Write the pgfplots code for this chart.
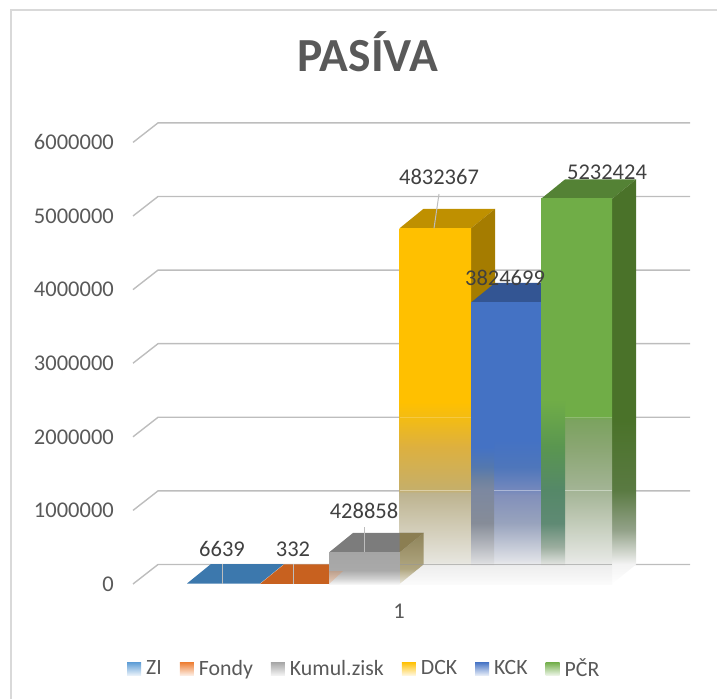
\documentclass[border=0pt]{standalone}
\usepackage{fontspec}
\setmainfont{Carlito}
\usepackage{pgfplots}
\pgfplotsset{compat=1.18}
\definecolor{txt}{HTML}{595959}
\definecolor{lab}{HTML}{404040}
\definecolor{gridc}{HTML}{BDBDBD}
\definecolor{framec}{HTML}{D9D9D9}
\definecolor{cZI}{HTML}{5B9BD5}
\definecolor{cFo}{HTML}{ED7D31}
\definecolor{cKu}{HTML}{A5A5A5}
\definecolor{cDC}{HTML}{FFC000}
\definecolor{cKC}{HTML}{4472C4}
\definecolor{cPC}{HTML}{70AD47}
\definecolor{pale}{HTML}{FBFBFB}
\definecolor{flo}{HTML}{EEEEEE}
\definecolor{y1}{HTML}{F3BC14}\definecolor{y2}{HTML}{DDB03F}\definecolor{y3}{HTML}{C5AF6A}\definecolor{y4}{HTML}{BDB38F}\definecolor{y5}{HTML}{E6E5DE}
\definecolor{b1}{HTML}{5478AE}\definecolor{b2}{HTML}{6E82A0}\definecolor{b3}{HTML}{7C88A0}\definecolor{b4}{HTML}{868C98}\definecolor{b5}{HTML}{B8BBC1}\definecolor{b6}{HTML}{DADBDE}
\definecolor{br1}{HTML}{4E76BB}\definecolor{br2}{HTML}{7488BC}\definecolor{br3}{HTML}{8290BA}\definecolor{br4}{HTML}{98A3BD}\definecolor{br5}{HTML}{DEE0E6}
\definecolor{g1}{HTML}{5A9650}\definecolor{g2}{HTML}{558868}\definecolor{g3}{HTML}{5F8A74}\definecolor{g4}{HTML}{9CAE9F}\definecolor{g5}{HTML}{DDE0DC}
\definecolor{gr1}{HTML}{7BA35F}\definecolor{gr2}{HTML}{8AA672}\definecolor{gr3}{HTML}{A3B495}\definecolor{gr4}{HTML}{B9C4AE}\definecolor{gr5}{HTML}{E5E7E3}
\definecolor{gs0}{HTML}{4A7229}\definecolor{gs1}{HTML}{5A7A42}\definecolor{gs2}{HTML}{93A289}\definecolor{gs3}{HTML}{D8DCD5}\definecolor{gs4}{HTML}{F3F3F3}
\definecolor{k1}{HTML}{A9A9A9}\definecolor{k2}{HTML}{D0D0D0}\definecolor{k3}{HTML}{F5F5F5}
\definecolor{ks0}{HTML}{8F845A}\definecolor{ks1}{HTML}{B0A680}\definecolor{ks2}{HTML}{ECE9DF}
\pgfdeclareverticalshading{fY}{100bp}{color(0bp)=(pale);color(25bp)=(pale);color(27.53bp)=(flo);color(28.1bp)=(y5);color(37.8bp)=(y4);color(38.2bp)=(y3);color(44.26bp)=(y2);color(48.34bp)=(y1);color(50.6bp)=(cDC);color(100bp)=(cDC)}
\pgfdeclareverticalshading{fBL}{100bp}{color(0bp)=(pale);color(25bp)=(pale);color(28.2bp)=(flo);color(28.9bp)=(b6);color(31.58bp)=(b5);color(35.84bp)=(b4);color(41.7bp)=(b3);color(43.47bp)=(b2);color(45.78bp)=(b1);color(49.33bp)=(cKC);color(100bp)=(cKC)}
\pgfdeclareverticalshading{fBR}{100bp}{color(0bp)=(pale);color(25bp)=(pale);color(28.2bp)=(flo);color(29.26bp)=(br5);color(35.84bp)=(br4);color(40.8bp)=(br3);color(41.7bp)=(br2);color(45.78bp)=(br1);color(50.58bp)=(cKC);color(100bp)=(cKC)}
\pgfdeclareverticalshading{fGL}{100bp}{color(0bp)=(pale);color(25bp)=(pale);color(27.34bp)=(flo);color(27.7bp)=(g5);color(29.8bp)=(g4);color(32.9bp)=(g3);color(37.2bp)=(g2);color(42.8bp)=(g1);color(48.9bp)=(cPC);color(100bp)=(cPC)}
\pgfdeclareverticalshading{fGR}{100bp}{color(0bp)=(pale);color(25bp)=(pale);color(27.34bp)=(flo);color(28.1bp)=(gr5);color(34.2bp)=(gr4);color(37.2bp)=(gr3);color(42.8bp)=(gr2);color(46.4bp)=(gr1);color(46.8bp)=(cPC);color(100bp)=(cPC)}
\pgfdeclareverticalshading{fGS}{100bp}{color(0bp)=(white);color(25bp)=(white);color(27.47bp)=(gs4);color(28.6bp)=(gs3);color(31.67bp)=(gs2);color(36.6bp)=(gs1);color(45.27bp)=(gs0);color(100bp)=(gs0)}
\pgfdeclareverticalshading{fK}{100bp}{color(0bp)=(k3);color(25bp)=(k3);color(34bp)=(k2);color(47bp)=(k1);color(75bp)=(cKu);color(100bp)=(cKu)}
\pgfdeclareverticalshading{fKS}{100bp}{color(0bp)=(ks2);color(25bp)=(ks2);color(40bp)=(ks1);color(75bp)=(ks0);color(100bp)=(ks0)}
\newcommand{\swatch}[1]{\addlegendimage{legend image code/.code={\shade[draw=none,top color=#1,middle color=#1,bottom color=#1!15!white] (0pt,-6.5pt) rectangle (14pt,6.5pt);}}}
\begin{document}
\begin{tikzpicture}
\path[use as bounding box] (0,0) rectangle (717pt,699pt);
\begin{axis}[
  scale only axis, width=717pt, height=699pt,
  xmin=0, xmax=717, ymin=-1562500, ymax=7934783,
  axis line style={draw=none}, major tick length=0pt,
  clip=false,
  ytick={0,1000000,2000000,3000000,4000000,5000000,6000000},
  scaled y ticks=false,
  xtick={399}, xticklabels={1},
  /pgf/number format/assume math mode=true,
  /pgf/number format/fixed, /pgf/number format/1000 sep={},
  tick label style={text=txt,font=\fontsize{22.5}{24}\selectfont,inner sep=0pt},
  yticklabel style={anchor=east,xshift=114pt},
  xticklabel style={anchor=center,yshift=88pt},
  title={PASÍVA},
  title style={at={(axis description cs:0.513,0.889)},anchor=base,text=txt,font=\fontsize{47.5}{50}\selectfont\bfseries,inner sep=0pt},
  legend entries={ZI,Fondy,Kumul.zisk,DCK,KCK,PČR},
  legend columns=6,
  legend style={at={(axis cs:127,-1148098)},anchor=west,draw=none,fill=none,inner sep=0pt,
    text=txt,font=\fontsize{21.8}{24}\selectfont,
    /tikz/every odd column/.append style={column sep=3pt},
    /tikz/every even column/.append style={column sep=16pt},
    nodes={inner sep=2pt}},
]
\swatch{cZI}\swatch{cFo}\swatch{cKu}\swatch{cDC}\swatch{cKC}\swatch{cPC}
% frame
\addplot[framec,line width=2pt] coordinates {(11,-1562500)(11,7798913)(717,7798913)};
% gridlines
\addplot[gridc,line width=1.4pt] coordinates {(133,0)(158,265000)(690,265000)};
\addplot[gridc,line width=1.4pt] coordinates {(133,1000000)(158,1265000)(690,1265000)};
\addplot[gridc,line width=1.4pt] coordinates {(133,2000000)(158,2265000)(690,2265000)};
\addplot[gridc,line width=1.4pt] coordinates {(133,3000000)(158,3265000)(690,3265000)};
\addplot[gridc,line width=1.4pt] coordinates {(133,4000000)(158,4265000)(690,4265000)};
\addplot[gridc,line width=1.4pt] coordinates {(133,5000000)(158,5265000)(690,5265000)};
\addplot[gridc,line width=1.4pt] coordinates {(133,6000000)(158,6265000)(690,6265000)};
% ZI
\addplot[draw=none,fill={rgb,255:red,60;green,120;blue,173}] coordinates {(187,6639)(260,6639)(284,271639)(211,271639)} -- cycle;
% Fondy
\addplot[draw=none,fill={rgb,255:red,200;green,97;blue,31}] coordinates {(260,332)(329,332)(353,265332)(284,265332)} -- cycle;
% DCK
\addplot[draw=none,fill={rgb,255:red,191;green,144;blue,0}] coordinates {(399.5,4832367)(471,4832367)(495,5097367)(423.5,5097367)} -- cycle;
\addplot[draw=none,fill={rgb,255:red,165;green,124;blue,0}] coordinates {(471,4832367)(495,5097367)(495,3824699)(471,3824699)} -- cycle;
\addplot[ybar,bar width=71.5pt,bar shift=0pt,draw=none,shade,shading=fY] coordinates {(435.25,4832367)};
% KCK
\addplot[draw=none,fill={rgb,255:red,51;green,85;blue,147}] coordinates {(471,3824699)(541,3824699)(565,4089699)(495,4089699)} -- cycle;
\addplot[ybar,bar width=70pt,bar shift=0pt,draw=none,shade,shading=fBR] coordinates {(506,3824699)};
\addplot[draw=none,shade,shading=fBL] coordinates {(471,3824699)(494,3824699)(494,0)(471,0)} -- cycle;
% PCR
\addplot[draw=none,fill={rgb,255:red,84;green,130;blue,53}] coordinates {(541,5232424)(612,5232424)(636,5497424)(565,5497424)} -- cycle;
\addplot[draw=none,shade,shading=fGS] coordinates {(612,5232424)(636,5497424)(636,265000)(612,0)} -- cycle;
\addplot[ybar,bar width=71pt,bar shift=0pt,draw=none,shade,shading=fGR] coordinates {(576.5,5232424)};
\addplot[draw=none,shade,shading=fGL] coordinates {(541,5232424)(565,5232424)(565,0)(541,0)} -- cycle;
% Kumul.zisk
\addplot[draw=none,fill={rgb,255:red,124;green,124;blue,124}] coordinates {(329,428858)(399.5,428858)(423.5,693858)(353,693858)} -- cycle;
\addplot[draw=none,fill={rgb,255:red,139;green,126;blue,82}] coordinates {(399.5,428858)(423.5,693858)(399.5,693858)} -- cycle;
\addplot[draw=none,shade,shading=fKS] coordinates {(399.5,428858)(423.5,693858)(423.5,265000)(399.5,0)} -- cycle;
\addplot[ybar,bar width=70.5pt,bar shift=0pt,draw=none,shade,shading=fK] coordinates {(364.25,428858)};
\addplot[draw=none,fill=cFo,opacity=.25] coordinates {(329,0)(343,176000)(329,176000)} -- cycle;
% gridline glints on the bars
\addplot[white,opacity=.4,line width=1pt] coordinates {(399.5,1265000)(471,1265000)};
\addplot[white,opacity=.4,line width=1pt] coordinates {(494,1265000)(541,1265000)};
\addplot[white,opacity=.4,line width=1pt] coordinates {(565,1265000)(612,1265000)};
\addplot[white,opacity=.2,line width=1pt] coordinates {(399.5,2265000)(471,2265000)};
\addplot[white,opacity=.2,line width=1pt] coordinates {(565,2265000)(612,2265000)};
\addplot[gridc!80!black,opacity=.6,line width=1pt] coordinates {(399.5,265000)(612,265000)};
% leaders
\addplot[gridc,line width=1pt] coordinates {(222.5,6639)(222.5,265000)};
\addplot[gridc,line width=1pt] coordinates {(293,332)(293,265000)};
\addplot[gridc,line width=1pt] coordinates {(364,428858)(364,774000)};
\addplot[gridc,line width=1pt] coordinates {(434,4832367)(439,5299000)};
% data labels
\begin{scope}[every node/.style={inner sep=0pt,text=lab,font=\fontsize{22.5}{24}\selectfont}]
\node at (axis cs:222,475543) {6639};
\node at (axis cs:293,475543) {332};
\node at (axis cs:364,991848) {428858};
\node at (axis cs:439,5529891) {4832367};
\node at (axis cs:505,4157609) {3824699};
\node at (axis cs:607,5597826) {5232424};
\end{scope}
\end{axis}
\end{tikzpicture}
\end{document}
